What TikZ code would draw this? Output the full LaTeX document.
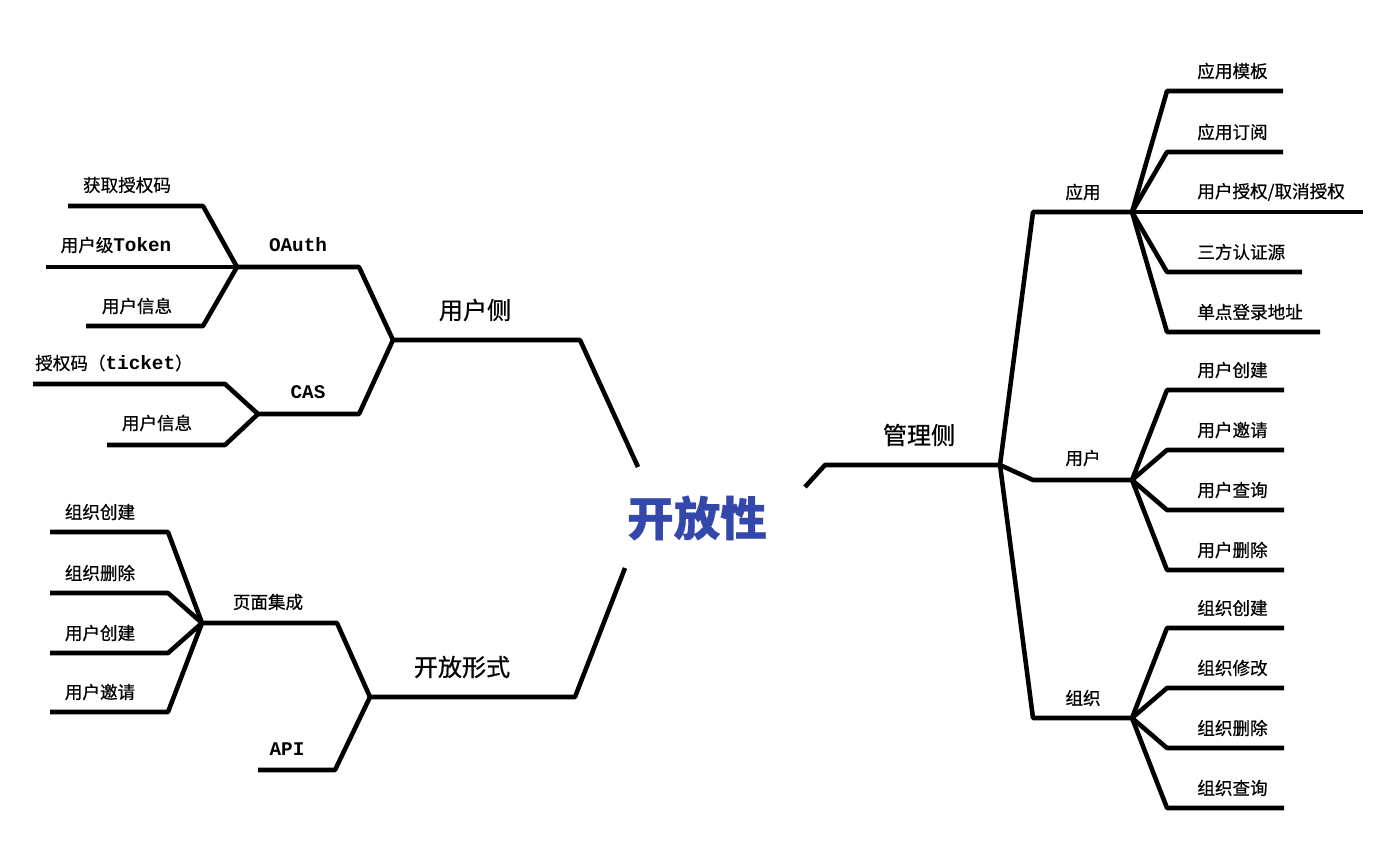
\documentclass[tikz,border=0pt]{standalone}
\usepackage{fontspec}
\setmainfont{Noto Sans CJK SC}[FakeBold=0.6]
\newfontfamily\lat{Liberation Mono}[Scale=1.1]
\definecolor{openblue}{RGB}{52,72,172}
\tikzset{
  branch/.style={line width=2.6pt, line join=round},
  lbl/.style={inner sep=0pt, font=\fontsize{10}{12}\selectfont},
  mid/.style={inner sep=0pt, font=\fontsize{13.7}{16}\selectfont},
  leaf/.style={lbl, anchor=west},
}

\begin{document}
\begin{tikzpicture}[x=0.02cm, y=-0.02cm]
\useasboundingbox (0,0) rectangle (1383,859);

% centre
\node[lbl, font=\fontsize{26.5}{30}\selectfont\bfseries, text=openblue] (hub) at (697,518) {开放性};

% user side
\coordinate (userEnd) at (638,467);
\coordinate (userJ) at (393,340);
\coordinate (oauthJ) at (237,267);
\coordinate (casJ) at (258,414);
\draw[branch] (userEnd) -- (580,340) -- (userJ);
\draw[branch] (userJ) -- (359,267) -- (oauthJ);
\draw[branch] (userJ) -- (359,414) -- (casJ);
\node[mid] (userside) at (475,310) {用户侧};
\node[lbl] (oauth) at (298,245) {\lat\bfseries OAuth};
\node[lbl] (cas) at (308,392) {\lat\bfseries CAS};

\coordinate (codeEnd) at (68,206);
\coordinate (tokenEnd) at (46,267);
\coordinate (oinfoEnd) at (86,326);
\draw[branch] (oauthJ) -- (203,206) -- (codeEnd);
\draw[branch] (oauthJ) -- (tokenEnd);
\draw[branch] (oauthJ) -- (203,326) -- (oinfoEnd);
\node[lbl] (getcode) at (127,185) {获取授权码};
\node[lbl] (token) at (116,245) {用户级{\lat\bfseries Token}};
\node[lbl] (oinfo) at (137,306) {用户信息};

\coordinate (ticketEnd) at (33,384);
\coordinate (cinfoEnd) at (107,445);
\draw[branch] (casJ) -- (225,384) -- (ticketEnd);
\draw[branch] (casJ) -- (225,445) -- (cinfoEnd);
\node[lbl] (ticket) at (114,363) {授权码（{\lat\bfseries ticket}）};
\node[lbl] (cinfo) at (157,423) {用户信息};

% open forms
\coordinate (formEnd) at (625,568);
\coordinate (formJ) at (370,697);
\coordinate (pageJ) at (202,623);
\coordinate (apiEnd) at (258,770);
\draw[branch] (formEnd) -- (575,697) -- (formJ);
\draw[branch] (formJ) -- (337,623) -- (pageJ);
\draw[branch] (formJ) -- (335,770) -- (apiEnd);
\node[mid] (openform) at (462,667) {开放形式};
\node[lbl] (page) at (268,602) {页面集成};
\node[lbl] (api) at (287,749) {\lat\bfseries API};

\foreach \y/\t [count=\i] in {532/组织创建,593/组织删除,653/用户创建,712/用户邀请} {
  \coordinate (pageEnd\i) at (50,\y);
  \draw[branch] (pageJ) -- (168,\y) -- (pageEnd\i);
  \node[lbl] (page\i) at (100,\y-20) {\t};
}

% management side
\coordinate (mgmtEnd) at (805,487);
\coordinate (mgmtJ) at (1000,465);
\coordinate (appJ) at (1132,212);
\coordinate (usrJ) at (1132,480);
\coordinate (orgJ) at (1132,718);
\draw[branch] (mgmtEnd) -- (825,465) -- (mgmtJ);
\draw[branch] (mgmtJ) -- (1033,212) -- (appJ);
\draw[branch] (mgmtJ) -- (1033,480) -- (usrJ);
\draw[branch] (mgmtJ) -- (1033,718) -- (orgJ);
\node[mid] (mgmt) at (919,435) {管理侧};
\node[lbl] (app) at (1083,192) {应用};
\node[lbl] (usr) at (1083,458) {用户};
\node[lbl] (org) at (1083,698) {组织};

\foreach \y/\e/\t [count=\i] in {91/1283/应用模板,152/1283/应用订阅,272/1302/三方认证源,332/1320/单点登录地址} {
  \coordinate (appEnd\i) at (\e,\y);
  \draw[branch] (appJ) -- (1167,\y) -- (appEnd\i);
  \node[leaf] (app\i) at (1197,\y-20) {\t};
}
\coordinate (grantEnd) at (1363,212);
\draw[branch] (appJ) -- (grantEnd);
\node[leaf] (grant) at (1197,192) {用户授权/取消授权};

\foreach \y/\t [count=\i] in {390/用户创建,450/用户邀请,510/用户查询,570/用户删除} {
  \coordinate (usrEnd\i) at (1284,\y);
  \draw[branch] (usrJ) -- (1167,\y) -- (usrEnd\i);
  \node[leaf] (usr\i) at (1197,\y-20) {\t};
}

\foreach \y/\t [count=\i] in {628/组织创建,688/组织修改,748/组织删除,808/组织查询} {
  \coordinate (orgEnd\i) at (1284,\y);
  \draw[branch] (orgJ) -- (1167,\y) -- (orgEnd\i);
  \node[leaf] (org\i) at (1197,\y-20) {\t};
}

\end{tikzpicture}
\end{document}
